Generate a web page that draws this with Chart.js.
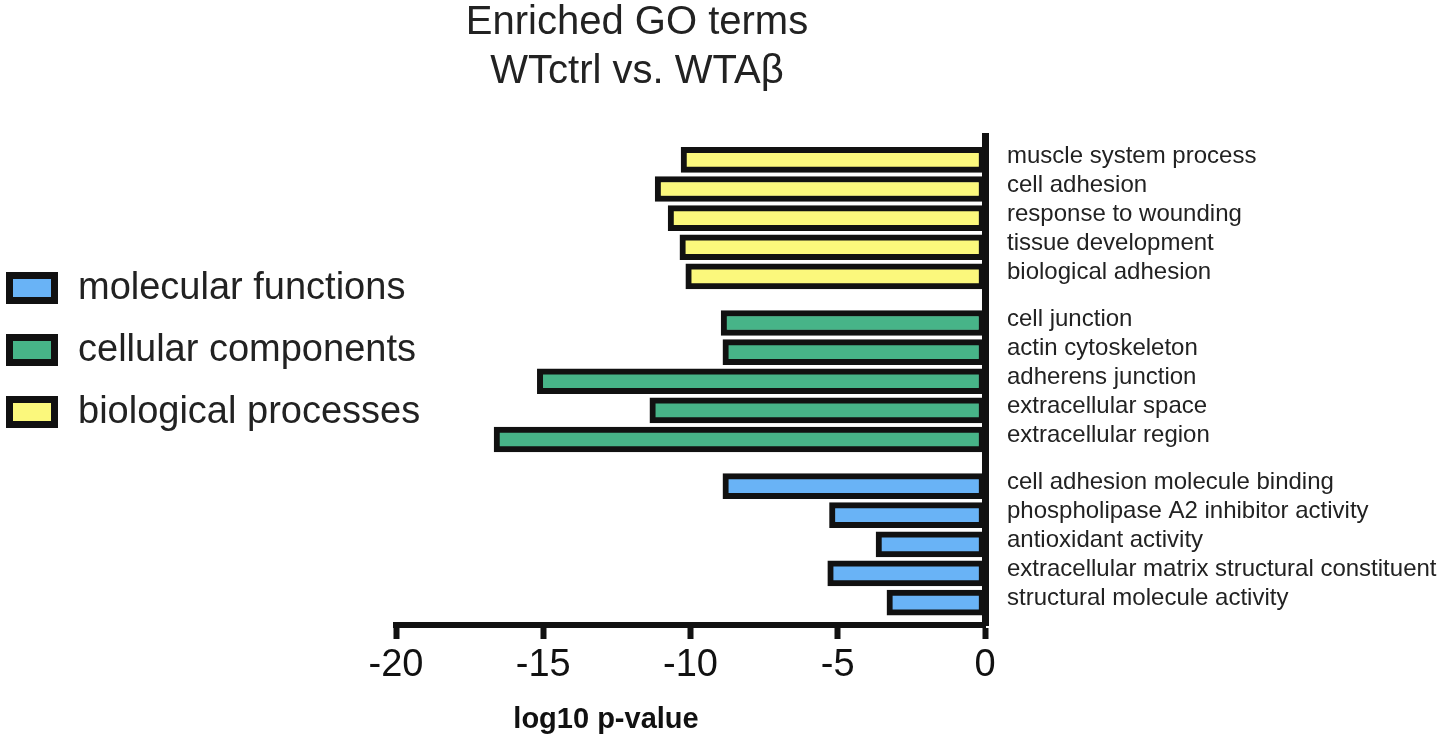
<!DOCTYPE html>
<html lang="en">
<head>
    <meta charset="UTF-8">
    <title>Enriched GO terms WTctrl vs. WTAβ</title>
    <script src="https://cdn.jsdelivr.net/npm/chart.js@4.4.1/dist/chart.umd.min.js"></script>
    <style>
        body { margin: 0; background: #fff; }
    </style>
</head>
<body>
    <canvas id="go-chart" width="1449" height="749"></canvas>

    <script>
        // GO terms, top to bottom, with log10 p-values
        var bpTerms = ['muscle system process', 'cell adhesion', 'response to wounding', 'tissue development', 'biological adhesion'];
        var bpValues = [-10.32, -11.2, -10.76, -10.36, -10.16];

        var ccTerms = ['cell junction', 'actin cytoskeleton', 'adherens junction', 'extracellular space', 'extracellular region'];
        var ccValues = [-8.96, -8.9, -15.2, -11.38, -16.67];

        var mfTerms = ['cell adhesion molecule binding', 'phospholipase A2 inhibitor activity', 'antioxidant activity', 'extracellular matrix structural constituent', 'structural molecule activity'];
        var mfValues = [-8.9, -5.28, -3.7, -5.34, -3.33];

        var xTicks = [-20, -15, -10, -5, 0];

        var groups = [
            { name: 'biological processes', terms: bpTerms, values: bpValues, color: '#fbf87c' },
            { name: 'cellular components', terms: ccTerms, values: ccValues, color: '#47b488' },
            { name: 'molecular functions', terms: mfTerms, values: mfValues, color: '#69b3f6' }
        ];

        // rows run down the axis, with a bit of extra space between groups
        var groupGap = 0.6;
        var rowPos = [];
        var rowLabels = [];
        var datasets = groups.map(function (g, gi) {
            var pts = g.values.map(function (v, i) {
                var y = gi * (g.terms.length + groupGap) + i;
                rowPos.push(y);
                rowLabels.push(g.terms[i]);
                return { x: v, y: y };
            });
            return {
                label: g.name,
                data: pts,
                backgroundColor: g.color,
                borderColor: '#111',
                borderWidth: 6,
                borderSkipped: false,
                barThickness: 25
            };
        });

        var fontFace = '"Liberation Sans", Arial, Helvetica, sans-serif';

        // title, legend and axis title drawn straight onto the canvas
        var decorations = {
            id: 'decorations',
            afterDraw: function (chart) {
                var c = chart.ctx;
                c.save();
                c.fillStyle = '#222';
                c.textAlign = 'center';
                c.textBaseline = 'middle';
                c.font = '40px ' + fontFace;
                c.fillText('Enriched GO terms', 637, 23);
                c.fillText('WTctrl vs. WTAβ', 637, 72);

                c.font = 'bold 29px ' + fontFace;
                c.fillStyle = '#111';
                c.fillText('log10 p-value', 606, 720);

                // legend: molecular on top, biological at the bottom
                var order = groups.slice().reverse();
                c.textAlign = 'left';
                c.font = '38px ' + fontFace;
                order.forEach(function (g, k) {
                    var y = 272 + k * 62;
                    c.fillStyle = '#111';
                    c.fillRect(6, y, 52, 32);
                    c.fillStyle = g.color;
                    c.fillRect(13, y + 7, 38, 18);
                    c.fillStyle = '#222';
                    c.fillText(g.name, 78, y + 17);
                });
                c.restore();
            }
        };

        var chart = new Chart(document.getElementById('go-chart'), {
            type: 'bar',
            data: { datasets: datasets },
            options: {
                responsive: false,
                animation: false,
                indexAxis: 'y',
                grouped: false,
                layout: { padding: { left: 396, top: 136, right: 0, bottom: 0 } },
                plugins: {
                    legend: { display: false },
                    tooltip: { enabled: false }
                },
                scales: {
                    x: {
                        type: 'linear',
                        min: -20,
                        max: 0,
                        afterBuildTicks: function (scale) {
                            scale.ticks = xTicks.map(function (v) { return { value: v }; });
                        },
                        afterFit: function (scale) { scale.height = 124; },
                        border: { display: true, color: '#111', width: 6 },
                        grid: {
                            display: true,
                            drawOnChartArea: false,
                            drawTicks: true,
                            tickLength: 14,
                            tickWidth: 6,
                            tickColor: '#111'
                        },
                        ticks: {
                            padding: 4,
                            color: '#111',
                            font: { family: fontFace, size: 38 }
                        }
                    },
                    y: {
                        type: 'linear',
                        position: 'right',
                        reverse: true,
                        offset: false,
                        min: -0.82,
                        max: 15.97,
                        afterBuildTicks: function (scale) {
                            scale.ticks = rowPos.map(function (v) { return { value: v }; });
                        },
                        afterFit: function (scale) { scale.width = 1449 - 985; },
                        border: { display: true, color: '#111', width: 7 },
                        grid: { display: false, drawTicks: false },
                        ticks: {
                            autoSkip: false,
                            padding: 22,
                            labelOffset: -4,
                            color: '#222',
                            font: { family: fontFace, size: 24 },
                            callback: function (v, i) { return rowLabels[i]; }
                        }
                    }
                }
            },
            plugins: [decorations]
        });
    </script>
</body>
</html>
